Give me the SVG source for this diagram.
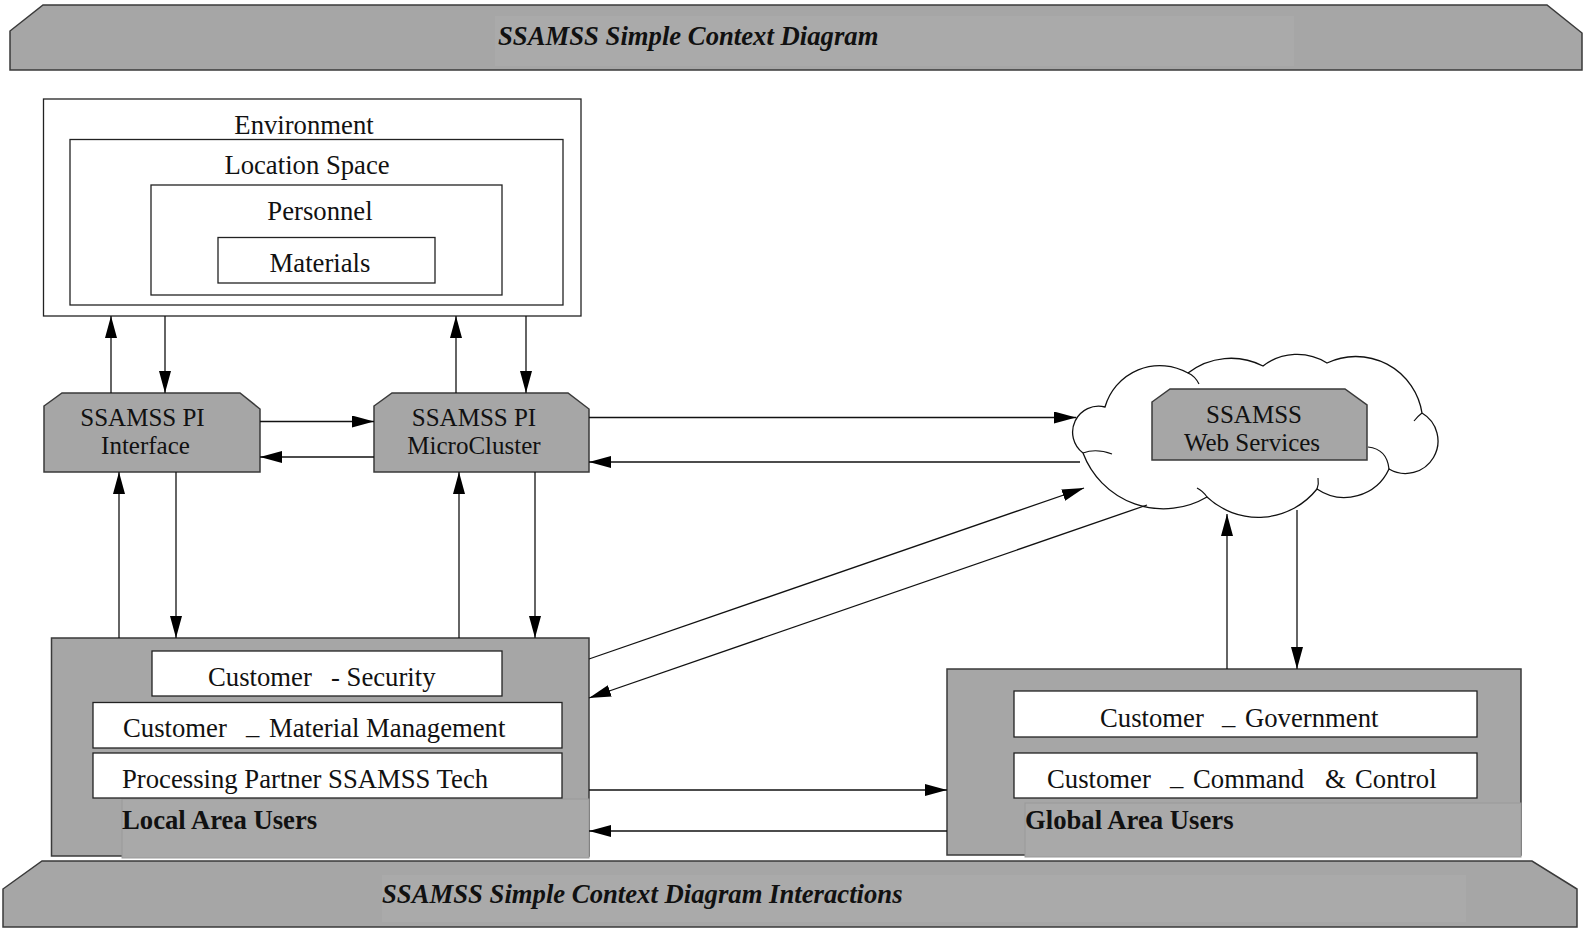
<svg xmlns="http://www.w3.org/2000/svg" width="1585" height="931" viewBox="0 0 1585 931">
<defs>
<style>
.gray{fill:#a6a6a6;stroke:#3a3a3a;stroke-width:1.5}
.white{fill:#fff;stroke:#222;stroke-width:1.3}
.tbg{fill:#aaaaaa;stroke:none}
.t{font-family:"Liberation Serif","Times New Roman",serif;font-size:26.7px;fill:#111}
.t2{font-size:25px}
.b{font-weight:bold}
.bi{font-weight:bold;font-style:italic}
.c{text-anchor:middle}
.ln{stroke:#111;stroke-width:1.3;fill:none;marker-end:url(#ah)}
.cl{fill:#fff;stroke:#111;stroke-width:1.3}
.inner{fill:none;stroke:#111;stroke-width:1.2}
</style>
<marker id="ah" viewBox="0 0 22 12" refX="22" refY="6" markerWidth="22" markerHeight="12" markerUnits="userSpaceOnUse" orient="auto">
<path d="M0,0 L22,6 L0,12 Z" fill="#000"/>
</marker>
</defs>
<rect width="1585" height="931" fill="#fff"/>

<g id="title-banner">
<path class="gray" d="M10,31 L43,5 L1547,5 L1582,33 L1582,70 L10,70 Z"/>
<rect class="tbg" x="495" y="16" width="799" height="50"/>
<text class="t bi" x="498" y="45">SSAMSS Simple Context Diagram</text>
</g>

<g id="environment">
<rect class="white" x="43.5" y="99" width="537.5" height="217"/>
<text class="t c" x="304" y="134">Environment</text>
</g>
<g id="location-space">
<rect class="white" x="70" y="139.5" width="493" height="165.5"/>
<text class="t c" x="307" y="174">Location Space</text>
</g>
<g id="personnel">
<rect class="white" x="151" y="185" width="351" height="110"/>
<text class="t c" x="320" y="220">Personnel</text>
</g>
<g id="materials">
<rect class="white" x="218" y="237.5" width="217" height="45.5"/>
<text class="t c" x="320" y="272">Materials</text>
</g>

<g id="pi-interface">
<path class="gray" d="M44,406 L62,393 L240,393 L260,409 L260,472 L44,472 Z"/>
<text class="t t2 c" x="142.5" y="426">SSAMSS PI</text>
<text class="t t2 c" x="145.5" y="454">Interface</text>
</g>
<g id="pi-microcluster">
<path class="gray" d="M374,406 L392,393 L568,393 L589,409 L589,472 L374,472 Z"/>
<text class="t t2 c" x="474" y="426">SSAMSS PI</text>
<text class="t t2 c" x="474" y="454">MicroCluster</text>
</g>

<g id="cloud">
<path class="cl" d="M1083,453 A26,26 0 0 1 1105,407 A57,57 0 0 1 1188,373 A70,70 0 0 1 1263,366 A56,56 0 0 1 1327,363 A67,67 0 0 1 1422,413 A32,32 0 0 1 1389,469 A49,49 0 0 1 1317,489 A75,75 0 0 1 1207,497 A86,86 0 0 1 1083,453 Z"/>
<path class="inner" d="M1083,453 Q1096,448 1112,454"/>
<path class="inner" d="M1188,373 Q1195,376 1199,384"/>
<path class="inner" d="M1422,413 Q1418,416 1414,421"/>
<path class="inner" d="M1389,469 Q1387,449 1368,447" stroke="#999"/>
<path class="inner" d="M1317,489 Q1319,484 1318,478"/>
<path class="inner" d="M1207,497 Q1203,491 1197,488"/>
</g>
<g id="web-services">
<path class="gray" d="M1152,402 L1170,389 L1345,389 L1367,405 L1367,460 L1152,460 Z"/>
<text class="t t2 c" x="1254" y="423">SSAMSS</text>
<text class="t t2 c" x="1252" y="451">Web Services</text>
</g>

<g id="local-area-users">
<rect class="gray" x="51.5" y="638" width="537.5" height="218"/>
<rect class="tbg" x="122" y="799" width="467" height="59" style="fill:#a9a9a9;stroke:#999;stroke-width:1"/>
<text class="t b" x="122" y="829">Local Area Users</text>
</g>
<g id="customer-security">
<rect class="white" x="152" y="651" width="350" height="45"/>
<text class="t" x="208" y="686">Customer</text>
<text class="t" x="331" y="686">- Security</text>
</g>
<g id="customer-material-management">
<rect class="white" x="93" y="702.5" width="469" height="45.5"/>
<text class="t" x="123" y="737">Customer</text>
<text class="t" x="246" y="743">–</text>
<text class="t" x="269" y="737">Material Management</text>
</g>
<g id="processing-partner">
<rect class="white" x="93" y="753" width="469" height="45"/>
<text class="t" x="122" y="788">Processing Partner SSAMSS Tech</text>
</g>

<g id="global-area-users">
<rect class="gray" x="947" y="669" width="574" height="186"/>
<rect class="tbg" x="1025" y="803" width="496" height="54" style="fill:#a9a9a9;stroke:#999;stroke-width:1"/>
<text class="t b" x="1025" y="829">Global Area Users</text>
</g>
<g id="customer-government">
<rect class="white" x="1014" y="691" width="463" height="46"/>
<text class="t" x="1100" y="727">Customer</text>
<text class="t" x="1222" y="733">–</text>
<text class="t" x="1245" y="727">Government</text>
</g>
<g id="customer-command-control">
<rect class="white" x="1014" y="753" width="463" height="45"/>
<text class="t" x="1047" y="788">Customer</text>
<text class="t" x="1170" y="794">–</text>
<text class="t" x="1193" y="788">Command</text>
<text class="t" x="1325" y="788">&amp;</text>
<text class="t" x="1355" y="788">Control</text>
</g>

<g id="bottom-banner">
<path class="gray" d="M3,889 L42,861 L1532,861 L1577,889 L1577,927 L3,927 Z"/>
<rect class="tbg" x="382" y="875" width="1084" height="47"/>
<text class="t bi" x="382" y="903">SSAMSS Simple Context Diagram Interactions</text>
</g>

<g id="connectors">
<path class="ln" d="M111,393 V316"/>
<path class="ln" d="M165,316 V393"/>
<path class="ln" d="M456,393 V316"/>
<path class="ln" d="M526,316 V393"/>
<path class="ln" d="M260,421.5 H374"/>
<path class="ln" d="M374,457 H260"/>
<path class="ln" d="M589,417.5 H1076"/>
<path class="ln" d="M1080,462 H589"/>
<path class="ln" d="M176,472 V638"/>
<path class="ln" d="M119,638 V472"/>
<path class="ln" d="M459,638 V472"/>
<path class="ln" d="M535,472 V638"/>
<path class="ln" d="M589,659 L1084,488"/>
<path class="ln" d="M1147,505 L589,698"/>
<path class="ln" d="M1227,669 V514"/>
<path class="ln" d="M1297,510 V669"/>
<path class="ln" d="M589,790 H947"/>
<path class="ln" d="M947,831 H589"/>
</g>
</svg>
